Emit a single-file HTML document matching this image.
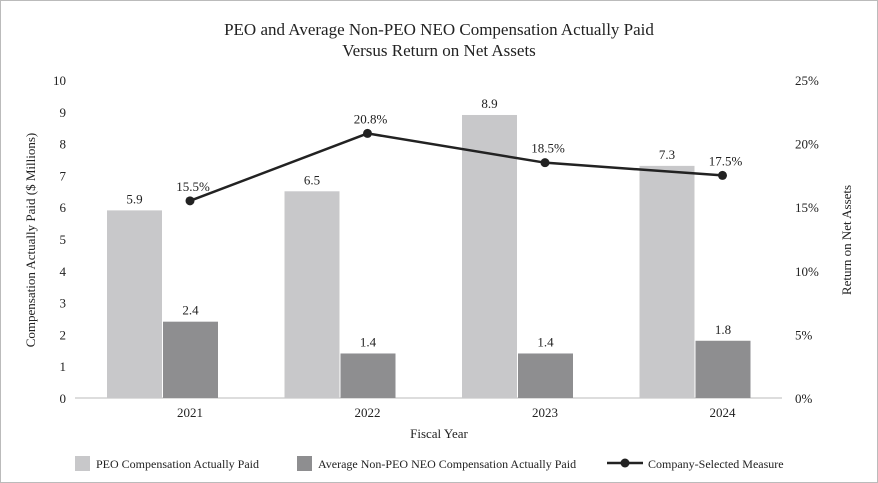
<!DOCTYPE html>
<html><head><meta charset="utf-8"><style>
body{margin:0;background:#fff}
svg{display:block;font-family:"Liberation Serif",serif}
</style></head><body>
<svg id="chart" width="878" height="483">
<rect x="0.5" y="0.5" width="877" height="482" fill="#fff" stroke="#bbb"/>
<text x="439" y="35" text-anchor="middle" font-size="17" fill="#222">PEO and Average Non-PEO NEO Compensation Actually Paid</text>
<text x="439" y="56" text-anchor="middle" font-size="17" fill="#222">Versus Return on Net Assets</text>
<text transform="translate(35,240) rotate(-90)" text-anchor="middle" font-size="13" fill="#222">Compensation Actually Paid ($ Millions)</text>
<text transform="translate(851,240) rotate(-90)" text-anchor="middle" font-size="13" fill="#222">Return on Net Assets</text>
<text x="439" y="438" text-anchor="middle" font-size="13" fill="#222">Fiscal Year</text>
<g id="marks"></g>
<g>
<rect x="75" y="456" width="15" height="15" fill="#c8c8ca"/>
<text x="96" y="468" font-size="12" fill="#222">PEO Compensation Actually Paid</text>
<rect x="297" y="456" width="15" height="15" fill="#8e8e90"/>
<text x="318" y="468" font-size="12" fill="#222">Average Non-PEO NEO Compensation Actually Paid</text>
<line x1="607" y1="463" x2="643" y2="463" stroke="#222" stroke-width="2.5"/>
<circle cx="625" cy="463" r="4.5" fill="#222"/>
<text x="648" y="468" font-size="12" fill="#222">Company-Selected Measure</text>
</g>
</svg>
<script>
const years=["2021","2022","2023","2024"];
const peo=[5.9,6.5,8.9,7.3];
const neo=[2.4,1.4,1.4,1.8];
const rona=[15.5,20.8,18.5,17.5];
const leftTicks=[0,1,2,3,4,5,6,7,8,9,10];
const rightTicks=[0,5,10,15,20,25];
const NS="http://www.w3.org/2000/svg";
const g=document.getElementById('marks');
const y=v=>398-v*31.8;
const y2=v=>398-v*318/25;
const xc=i=>190+i*177.5;
function mk(t,a,txt){const e=document.createElementNS(NS,t);for(const k in a)e.setAttribute(k,a[k]);if(txt!==undefined)e.textContent=txt;g.appendChild(e);return e;}
leftTicks.forEach(t=>{const e=mk('text',{x:66,y:y(t)+5,'text-anchor':'end','font-size':13,fill:'#222'},t);

});
rightTicks.forEach(t=>{const e=mk('text',{x:795,y:y2(t)+5,'font-size':13,fill:'#222'},t+'%');

});
const base=mk('line',{x1:75,y1:398,x2:782,y2:398,stroke:'#bbb'});


years.forEach((yr,i)=>{
 const c=xc(i);
 const b1=mk('rect',{x:c-83,y:y(peo[i]),width:55,height:398-y(peo[i]),fill:'#c8c8ca'});
 
 
 const l1=mk('text',{x:c-55.5,y:y(peo[i])-7,'text-anchor':'middle','font-size':13,fill:'#222'},peo[i].toFixed(1));
 
 
 const b2=mk('rect',{x:c-27,y:y(neo[i]),width:55,height:398-y(neo[i]),fill:'#8e8e90'});
 
 
 const l2=mk('text',{x:c+0.5,y:y(neo[i])-7,'text-anchor':'middle','font-size':13,fill:'#222'},neo[i].toFixed(1));
 
 
 const xl=mk('text',{x:c,y:417,'text-anchor':'middle','font-size':13,fill:'#222'},yr);
 
 
});
const pts=rona.map((v,i)=>xc(i)+','+y2(v)).join(' ');
const pl=mk('polyline',{points:pts,fill:'none',stroke:'#222','stroke-width':2.5});


rona.forEach((v,i)=>{
 const d=mk('circle',{cx:xc(i),cy:y2(v),r:4.5,fill:'#222'});
 
 
 const t=mk('text',{x:xc(i)+3,y:y2(v)-10,'text-anchor':'middle','font-size':13,fill:'#222'},v.toFixed(1)+'%');
 
 
});
</script>
</body></html>
